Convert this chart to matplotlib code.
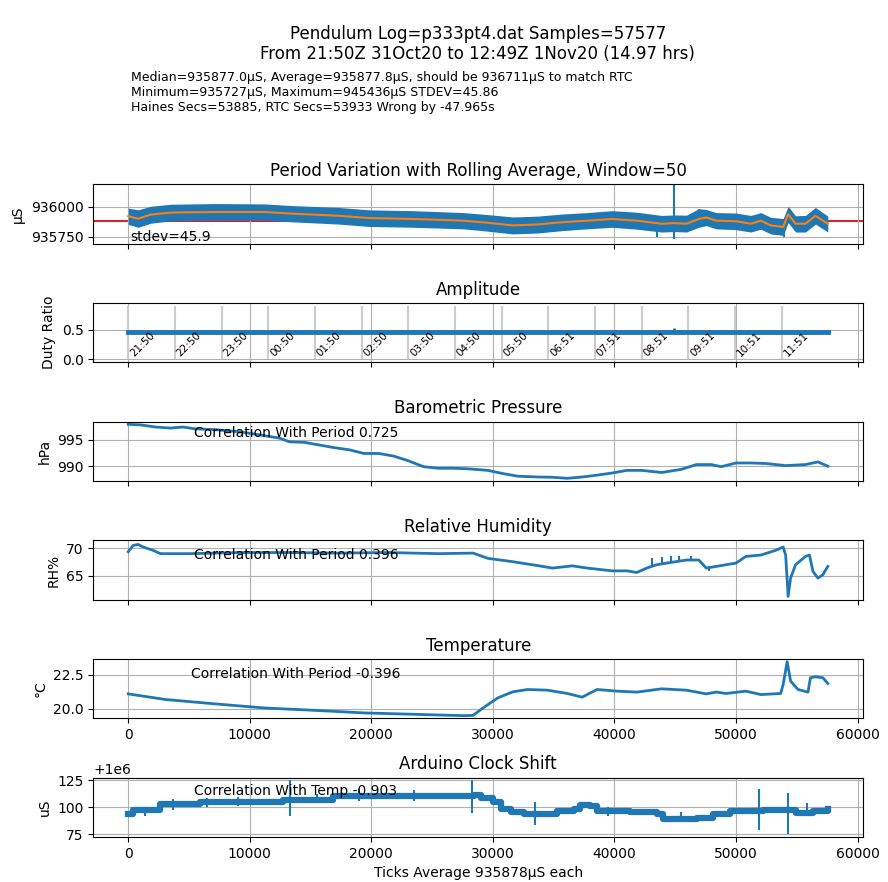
import matplotlib
matplotlib.use('Agg')
import matplotlib.pyplot as plt

# --- header text ---
title_lines = ['Pendulum Log=p333pt4.dat Samples=57577',
               'From 21:50Z 31Oct20 to 12:49Z 1Nov20 (14.97 hrs)']
info_lines = ['Median=935877.0\u03bcS, Average=935877.8\u03bcS, should be 936711\u03bcS to match RTC',
              'Minimum=935727\u03bcS, Maximum=945436\u03bcS STDEV=45.86',
              'Haines Secs=53885, RTC Secs=53933 Wrong by -47.965s']

n_samples = 57577
median_us = 935877

# --- period ---
period_x = [0, 816, 1837, 3469, 7143, 11224, 13265, 17347, 19796, 23469, 27551, 29592,
            31633, 33673, 35714, 37755, 39796, 41837, 43878, 44898, 45918, 46939, 47551,
            48367, 50000, 51224, 52041, 52857, 53878, 54286, 54898, 55714, 56531, 57551]
period_avg = [935922, 935900, 935935, 935952, 935957, 935957, 935944, 935925, 935906,
              935898, 935884, 935866, 935844, 935852, 935871, 935884, 935898, 935884,
              935858, 935863, 935858, 935898, 935911, 935884, 935879, 935858, 935884,
              935844, 935831, 935938, 935858, 935858, 935925, 935858]
period_hi = [935990, 935975, 936005, 936022, 936028, 936025, 936012, 935995, 935975,
             935968, 935952, 935935, 935915, 935922, 935940, 935952, 935968, 935955,
             935928, 935932, 935930, 935985, 935978, 935952, 935948, 935928, 935952,
             935912, 935902, 936005, 935925, 935928, 935995, 935922]
period_lo = [935852, 935828, 935862, 935882, 935888, 935888, 935875, 935855, 935835,
             935828, 935815, 935795, 935772, 935780, 935800, 935815, 935828, 935812,
             935788, 935792, 935788, 935828, 935842, 935815, 935808, 935788, 935812,
             935772, 935760, 935868, 935788, 935788, 935855, 935788]
period_spike_x = [43470, 44898, 46939, 53950]
period_spike_lo = [935750, 935728, 935850, 935745]
period_spike_hi = [935900, 936190, 935985, 935900]

# --- amplitude ---
amp_x = [0, 20000, 40000, 57577]
amp_y = [0.46, 0.46, 0.46, 0.46]
amp_spike_x = [44900]
amp_spike_hi = [0.53]
hour_x = [0, 3840, 7680, 11520, 15360, 19200, 23040, 26880, 30720, 34560,
          38400, 42240, 46080, 49920, 53760]
hour_labels = ['21:50', '22:50', '23:50', '00:50', '01:50', '02:50', '03:50', '04:50',
               '05:50', '06:51', '07:51', '08:51', '09:51', '10:51', '11:51']

# --- barometric pressure ---
press_x = [0, 1020, 2245, 3469, 4490, 5510, 7143, 9184, 10816, 12449, 13265, 14490,
           15714, 16939, 18163, 19388, 20612, 21837, 23061, 24286, 25510, 26735, 27959,
           29592, 30816, 32041, 33673, 34898, 36122, 37347, 38571, 39796, 41020, 42245,
           43878, 45510, 46735, 47959, 48776, 50000, 51224, 52449, 54082, 55714, 56735,
           57551]
press_y = [997.9, 997.8, 997.4, 997.2, 997.4, 997.05, 996.9, 996.5, 995.9, 995.3,
           994.6, 994.5, 994.0, 993.5, 993.1, 992.4, 992.4, 991.9, 991.0, 989.9, 989.6,
           989.6, 989.5, 989.2, 988.6, 988.1, 987.95, 987.9, 987.7, 987.95, 988.3, 988.7,
           989.2, 989.2, 988.8, 989.4, 990.3, 990.3, 989.9, 990.6, 990.6, 990.5, 990.1,
           990.3, 990.8, 990.0]

# --- relative humidity ---
hum_x = [0, 408, 816, 1224, 1633, 2041, 2653, 5102, 9184, 13265, 17347, 21429, 25510,
         28367, 29592, 31633, 33673, 34898, 36531, 37755, 39796, 41020, 41837, 42653,
         43469, 44286, 45918, 46939, 47551, 48367, 50000, 50816, 52041, 53265, 53878,
         54082, 54286, 54490, 54898, 55714, 56041, 56327, 56735, 57143, 57551]
hum_y = [69.35, 70.5, 70.65, 70.2, 69.9, 69.6, 69.0, 69.0, 69.2, 69.2, 69.1, 69.2, 69.0,
         69.1, 68.15, 67.55, 66.85, 66.4, 66.8, 66.4, 65.9, 65.9, 65.6, 66.4, 67.0, 67.3,
         67.85, 67.85, 66.4, 66.7, 67.3, 68.5, 68.75, 69.6, 70.2, 68.75, 61.3, 64.6, 67.0,
         68.5, 68.75, 65.8, 64.6, 65.2, 66.7]
hum_spike_x = [43060, 43880, 44690, 45310, 46330, 47800]
hum_spike_lo = [66.8, 67.2, 67.4, 67.6, 67.8, 65.8]
hum_spike_hi = [68.3, 68.4, 68.5, 68.6, 68.6, 66.8]

# --- temperature ---
temp_x = [0, 3061, 7143, 11224, 15306, 19388, 23469, 27551, 28367, 29184, 30408, 31633,
          32857, 34490, 36122, 37347, 37755, 38571, 40204, 41837, 43878, 45918, 47551,
          48367, 49184, 50816, 52041, 53673, 53878, 54204, 54490, 55102, 55918, 56122,
          56531, 57143, 57551]
temp_y = [21.10, 20.69, 20.37, 20.07, 19.90, 19.71, 19.61, 19.51, 19.53, 20.07, 20.81,
          21.25, 21.42, 21.37, 21.13, 20.86, 21.05, 21.42, 21.30, 21.23, 21.47, 21.37,
          21.10, 21.23, 21.13, 21.30, 21.05, 21.13, 21.79, 23.45, 22.03, 21.42, 21.23,
          22.28, 22.35, 22.28, 21.86]

# --- arduino clock shift (uS) ---
clock_x = [0, 411, 2607, 5900, 12747, 16860, 28443, 28989, 30000, 30628, 31448, 32541,
           35273, 36639, 37186, 38005, 38552, 41284, 43470, 44016, 46749, 48115, 49481,
           52213, 54945, 56311, 57577]
clock_y = [1000094, 1000097.6, 1000103, 1000105.2, 1000106.7, 1000110.7, 1000111.3,
           1000109, 1000104.6, 1000098.5, 1000095.5, 1000094, 1000097, 1000098.5,
           1000102, 1000101, 1000097, 1000095.5, 1000094, 1000089.4, 1000090, 1000094,
           1000097, 1000097.6, 1000094.5, 1000097, 1000098.5]
clock_spike_x = [1370, 3700, 6500, 9000, 13300, 15500, 19000, 23500, 28300, 33500,
                 39500, 45500, 51900, 54300, 55800]
clock_spike_lo = [1000092, 1000098, 1000100, 1000101, 1000092, 1000104, 1000106, 1000106,
                  1000095, 1000084, 1000092, 1000086, 1000079, 1000075, 1000092]
clock_spike_hi = [1000098, 1000108, 1000109, 1000110, 1000125, 1000112, 1000117, 1000116,
                  1000125, 1000105, 1000100, 1000096, 1000117, 1000113, 1000104]

corr_texts = ['Correlation With Period 0.725', 'Correlation With Period 0.396',
              'Correlation With Period -0.396', 'Correlation With Temp -0.903']

blue = '#1f77b4'
orange = '#ff7f0e'

fig, axes = plt.subplots(6, 1, figsize=(8.88, 8.82), dpi=100)
fig.subplots_adjust(left=0.105, right=0.972, top=0.791, bottom=0.051, hspace=1.0)

fig.text(0.538, 0.972, '\n'.join(title_lines), ha='center', va='top', fontsize=12)
fig.text(0.1475, 0.9195, '\n'.join(info_lines), ha='left', va='top', fontsize=9)

# 1. Period
ax = axes[0]
ax.axhline(median_us, color='#d62728', lw=1.5, zorder=1)
ax.fill_between(period_x, period_lo, period_hi, color=blue, lw=0, zorder=2)
ax.vlines(period_spike_x, period_spike_lo, period_spike_hi, color=blue, lw=1.5, zorder=2)
ax.plot(period_x, period_avg, color=orange, lw=1.5, zorder=3)
ax.set_ylim(935690, 936190)
ax.set_yticks([935750, 936000])
ax.set_ylabel('\u03bcS')
ax.set_title('Period Variation with Rolling Average, Window=50')
ax.text(0.048, 0.11, 'stdev=45.9', transform=ax.transAxes, va='center', fontsize=10,
        zorder=4)

# 2. Amplitude
ax = axes[1]
ax.vlines(hour_x, 0, 0.9, color='#cccccc', lw=1.5)
for hx, lab in zip(hour_x, hour_labels):
    ax.text(hx, 0.02, lab, rotation=45, ha='left', va='bottom', fontsize=7.5)
ax.plot(amp_x, amp_y, color=blue, lw=3.5)
ax.vlines(amp_spike_x, 0.46, amp_spike_hi, color=blue, lw=2)
ax.set_ylim(-0.05, 0.95)
ax.set_yticks([0.0, 0.5])
ax.set_ylabel('Duty Ratio')
ax.set_title('Amplitude')

# 3. Pressure
ax = axes[2]
ax.plot(press_x, press_y, color=blue, lw=2)
ax.set_yticks([990, 995])
ax.set_ylabel('hPa')
ax.set_title('Barometric Pressure')
ax.text(0.131, 0.808, corr_texts[0], transform=ax.transAxes, va='center', fontsize=10)

# 4. Humidity
ax = axes[3]
ax.plot(hum_x, hum_y, color=blue, lw=2)
ax.vlines(hum_spike_x, hum_spike_lo, hum_spike_hi, color=blue, lw=1.5)
ax.set_ylim(60.7, 71.4)
ax.set_yticks([65, 70])
ax.set_ylabel('RH%')
ax.set_title('Relative Humidity')
ax.text(0.131, 0.76, corr_texts[1], transform=ax.transAxes, va='center', fontsize=10)

# 5. Temperature
ax = axes[4]
ax.plot(temp_x, temp_y, color=blue, lw=2)
ax.set_yticks([20.0, 22.5])
ax.set_ylabel('\u00b0C')
ax.set_title('Temperature')
ax.text(0.127, 0.755, corr_texts[2], transform=ax.transAxes, va='center', fontsize=10)

# 6. Clock shift
ax = axes[5]
ax.plot(clock_x, clock_y, color=blue, lw=4.5, drawstyle='steps-post')
ax.vlines(clock_spike_x, clock_spike_lo, clock_spike_hi, color=blue, lw=1.5)
ax.set_yticks([1000075, 1000100, 1000125])
ax.set_ylabel('uS')
ax.set_title('Arduino Clock Shift')
ax.set_xlabel('Ticks Average 935878\u03bcS each')
ax.text(0.131, 0.77, corr_texts[3], transform=ax.transAxes, va='center', fontsize=10)

for i, ax in enumerate(axes):
    ax.set_xlim(-2879, 60456)
    ax.set_xticks([0, 10000, 20000, 30000, 40000, 50000, 60000])
    ax.grid(True, color='#b0b0b0', lw=0.8)
    ax.tick_params(labelsize=10)
    if i < 4:
        ax.tick_params(labelbottom=False)

fig.savefig('out.png', dpi=100)
